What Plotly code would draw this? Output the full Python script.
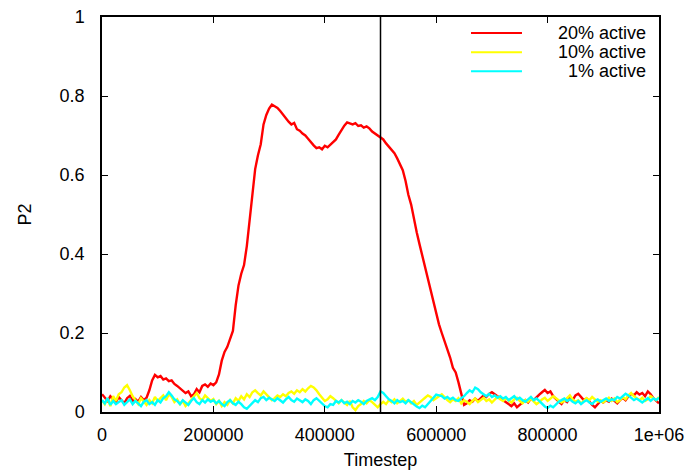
import plotly.graph_objects as go

# Timesteps sampled every 5000 steps
timestep = list(range(0, 1000001, 5000))

# P2 order parameter, 20% active particles
p2_20 = [
    0.045, 0.035, 0.028, 0.040, 0.032, 0.025, 0.038, 0.030, 0.022, 0.035,
    0.041, 0.028, 0.033, 0.026, 0.038, 0.030, 0.036, 0.055, 0.080, 0.094,
    0.088, 0.091, 0.082, 0.085, 0.078, 0.080, 0.071, 0.066, 0.060, 0.055,
    0.048, 0.052, 0.040, 0.045, 0.058, 0.050, 0.066, 0.070, 0.064, 0.072,
    0.068, 0.075, 0.095, 0.130, 0.152, 0.165, 0.183, 0.205, 0.270, 0.320,
    0.350, 0.372, 0.420, 0.490, 0.560, 0.615, 0.650, 0.678, 0.728, 0.752,
    0.768, 0.778, 0.774, 0.770, 0.762, 0.752, 0.745, 0.735, 0.728, 0.732,
    0.716, 0.712, 0.705, 0.700, 0.692, 0.682, 0.675, 0.668, 0.670, 0.665,
    0.674, 0.670, 0.676, 0.682, 0.690, 0.702, 0.715, 0.725, 0.733, 0.730,
    0.728, 0.731, 0.724, 0.726, 0.720, 0.723, 0.718, 0.710, 0.705, 0.702,
    0.696, 0.690, 0.680, 0.672, 0.665, 0.655, 0.642, 0.628, 0.612, 0.585,
    0.550, 0.525, 0.485, 0.455, 0.425, 0.395, 0.365, 0.335, 0.310, 0.280,
    0.250, 0.222, 0.200, 0.180, 0.162, 0.138, 0.112, 0.100, 0.075, 0.045,
    0.018, 0.022, 0.030, 0.026, 0.034, 0.028, 0.036, 0.042, 0.038, 0.046,
    0.050, 0.044, 0.040, 0.035, 0.030, 0.026, 0.020, 0.015, 0.022, 0.012,
    0.018, 0.025, 0.030, 0.024, 0.034, 0.030, 0.038, 0.044, 0.050, 0.056,
    0.048, 0.052, 0.040, 0.032, 0.026, 0.020, 0.030, 0.025, 0.036, 0.030,
    0.042, 0.046, 0.038, 0.030, 0.034, 0.025, 0.018, 0.012, 0.020, 0.028,
    0.024, 0.030, 0.026, 0.034, 0.028, 0.022, 0.030, 0.036, 0.030, 0.040,
    0.046, 0.042, 0.050, 0.044, 0.048, 0.040, 0.052, 0.045, 0.035, 0.028,
    0.022,
]

# P2 order parameter, 10% active particles
p2_10 = [
    0.030, 0.020, 0.035, 0.015, 0.040, 0.028, 0.045, 0.050, 0.062, 0.068,
    0.055, 0.040, 0.030, 0.020, 0.035, 0.025, 0.018, 0.030, 0.022, 0.038,
    0.028,
    0.035, 0.042, 0.030, 0.045, 0.038, 0.025, 0.032, 0.020, 0.028, 0.015,
    0.022, 0.030, 0.040, 0.048, 0.035, 0.030, 0.042, 0.036, 0.028, 0.033,
    0.020, 0.028, 0.015, 0.025, 0.018, 0.030, 0.022, 0.035, 0.028, 0.040,
    0.032, 0.045, 0.038, 0.050, 0.055, 0.048, 0.042, 0.052, 0.045, 0.038,
    0.030, 0.035, 0.042, 0.038, 0.045, 0.040, 0.048, 0.052, 0.046, 0.055,
    0.050, 0.058, 0.052, 0.060, 0.066, 0.062, 0.055, 0.045, 0.035, 0.028,
    0.032, 0.040, 0.035, 0.028, 0.022, 0.030, 0.025, 0.018, 0.028, 0.012,
    0.005, 0.015, 0.020, 0.028, 0.022, 0.030, 0.025, 0.018, 0.012, 0.020,
    0.026, 0.020, 0.030, 0.025, 0.032, 0.022, 0.028, 0.034, 0.026, 0.030,
    0.022, 0.028, 0.018, 0.025, 0.030, 0.036, 0.042, 0.038, 0.030, 0.035,
    0.040, 0.045, 0.038, 0.030, 0.025, 0.032, 0.028, 0.035, 0.022, 0.030,
    0.026, 0.020, 0.028, 0.034, 0.025, 0.030, 0.036, 0.028, 0.032, 0.024,
    0.030, 0.038, 0.032, 0.028, 0.035, 0.030, 0.024, 0.032, 0.036, 0.028,
    0.022, 0.030, 0.026, 0.034, 0.028, 0.020, 0.025, 0.032, 0.036, 0.028,
    0.034, 0.040, 0.035, 0.030, 0.024, 0.028, 0.036, 0.042, 0.032, 0.026,
    0.030, 0.022, 0.028, 0.035, 0.030, 0.038, 0.032, 0.026, 0.030, 0.024,
    0.030, 0.036, 0.028, 0.034, 0.025, 0.030, 0.038, 0.032, 0.042, 0.048,
    0.040, 0.035, 0.030, 0.036, 0.028, 0.032, 0.040, 0.035, 0.030, 0.038,
]

# P2 order parameter, 1% active particles
p2_1 = [
    0.030, 0.022, 0.035, 0.018, 0.028, 0.020, 0.025, 0.030, 0.018, 0.024,
    0.032, 0.020, 0.028, 0.022, 0.015, 0.026, 0.030, 0.020, 0.025, 0.018,
    0.030,
    0.024, 0.035, 0.040, 0.050, 0.042, 0.032, 0.028, 0.020, 0.030, 0.025,
    0.018, 0.028, 0.035, 0.025, 0.020, 0.030, 0.024, 0.032, 0.026, 0.030,
    0.022, 0.028, 0.020, 0.015, 0.025, 0.030, 0.022, 0.018, 0.026, 0.020,
    0.012, 0.008, 0.015, 0.022, 0.030, 0.025, 0.035, 0.038, 0.030, 0.036,
    0.032, 0.028, 0.035, 0.030, 0.024, 0.032, 0.038, 0.030, 0.026, 0.034,
    0.030, 0.025, 0.032, 0.028, 0.020, 0.030, 0.035, 0.028, 0.022, 0.015,
    0.012, 0.020, 0.018, 0.028, 0.024, 0.030, 0.022, 0.026, 0.020, 0.028,
    0.024, 0.030, 0.026, 0.020, 0.028, 0.032, 0.035, 0.030, 0.038, 0.052,
    0.048, 0.040, 0.032, 0.028, 0.022, 0.030, 0.025, 0.028, 0.022, 0.030,
    0.024, 0.020, 0.014, 0.010, 0.016, 0.012, 0.020, 0.030, 0.038, 0.044,
    0.042, 0.040, 0.034, 0.038, 0.032, 0.036, 0.030, 0.028, 0.035, 0.040,
    0.048, 0.055, 0.050, 0.062, 0.058, 0.050, 0.045, 0.040, 0.046, 0.038,
    0.042, 0.036, 0.040, 0.034, 0.038, 0.030, 0.035, 0.040, 0.032, 0.036,
    0.030, 0.026, 0.032, 0.038, 0.030, 0.034, 0.028, 0.020, 0.014, 0.010,
    0.016, 0.012, 0.020, 0.026, 0.030, 0.034, 0.028, 0.032, 0.026, 0.022,
    0.028, 0.020, 0.026, 0.030, 0.024, 0.020, 0.028, 0.032, 0.026, 0.030,
    0.034, 0.028, 0.032, 0.030, 0.038, 0.034, 0.040, 0.046, 0.042, 0.036,
    0.030, 0.034, 0.028, 0.024, 0.030, 0.035, 0.028, 0.034, 0.030, 0.036,
]

series_names = ["20% active", "10% active", "1% active"]
series_colors = ["#ff0000", "#ffff00", "#00ffff"]

marker_step = 500000

x_tickvals = [0, 200000, 400000, 600000, 800000, 1000000]
x_ticktext = ["0", "200000", "400000", "600000", "800000", "1e+06"]
y_tickvals = [0, 0.2, 0.4, 0.6, 0.8, 1.0]
y_ticktext = ["0", "0.2", "0.4", "0.6", "0.8", "1"]

font = dict(family="Liberation Sans, Arial, sans-serif", size=18, color="black")

fig = go.Figure()
for vals, name, color in zip([p2_20, p2_10, p2_1], series_names, series_colors):
    fig.add_trace(go.Scatter(
        x=timestep, y=vals, mode="lines", name=name,
        line=dict(color=color, width=2.4), showlegend=False,
    ))

fig.add_vline(x=marker_step, line=dict(color="black", width=1.5))

# gnuplot-style key: line sample on the left, right-aligned label
key_top = 0.9595
key_step = 0.0485
for k, (name, color) in enumerate(zip(series_names, series_colors)):
    ky = key_top - k * key_step
    fig.add_shape(type="line", xref="paper", yref="paper",
                  x0=0.6625, x1=0.754, y0=ky, y1=ky,
                  line=dict(color=color, width=2))
    fig.add_annotation(xref="paper", yref="paper", x=0.980, y=ky,
                       xanchor="right", yanchor="middle", text=name,
                       showarrow=False, font=font)

axis_common = dict(
    showline=True, linecolor="black", linewidth=1.5, mirror="ticks",
    ticks="inside", ticklen=6, tickcolor="black", tickwidth=1,
    showgrid=False, zeroline=False, tickfont=font, automargin=False,
)

fig.update_layout(
    width=692, height=472,
    margin=dict(l=102, r=33, t=17, b=60),
    paper_bgcolor="white", plot_bgcolor="white",
    font=font,
    showlegend=False,
    xaxis=dict(
        range=[0, 1000000], tickvals=x_tickvals, ticktext=x_ticktext,
        title=dict(text="Timestep", font=font, standoff=9),
        ticklabelstandoff=6, **axis_common,
    ),
    yaxis=dict(
        range=[0, 1], tickvals=y_tickvals, ticktext=y_ticktext,
        title=dict(text="P2", font=font, standoff=23),
        ticklabelstandoff=12, **axis_common,
    ),
)

fig.write_html("out.html")
